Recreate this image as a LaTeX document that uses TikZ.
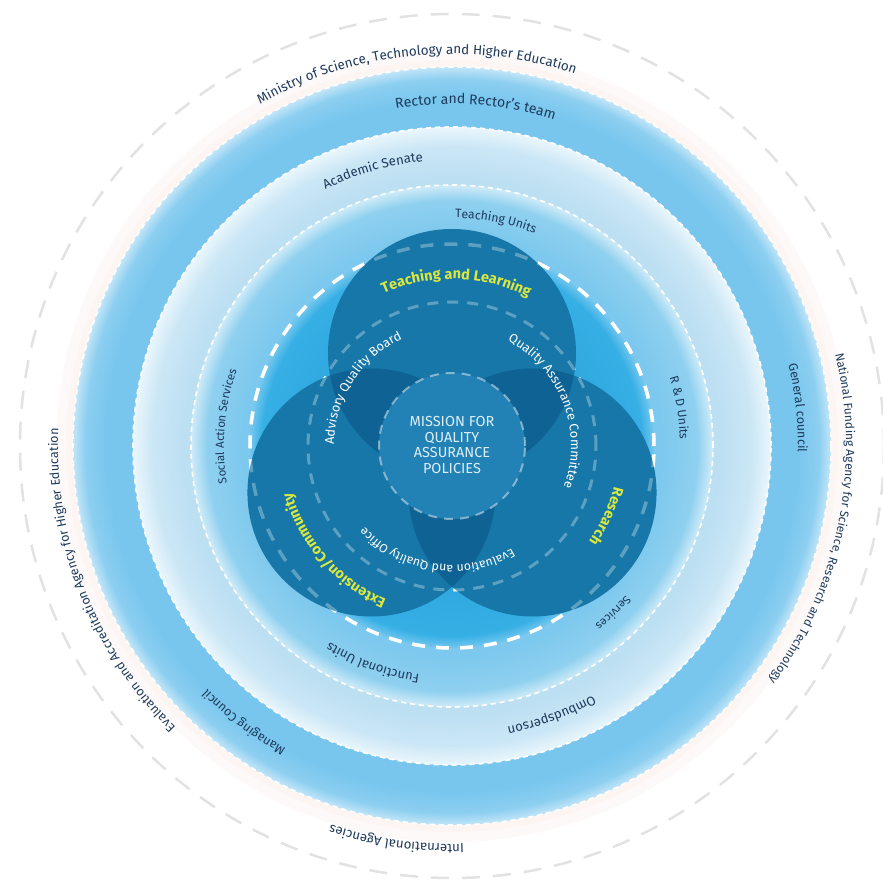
\documentclass[tikz,border=0pt]{standalone}
\usepackage{fontspec}
\setmainfont{Fira Sans}
\usetikzlibrary{decorations.text}
\definecolor{qanavy}{HTML}{1E3A5C}
\definecolor{qarector}{HTML}{78C6EE}
\definecolor{qasenate}{HTML}{CBE7F6}
\definecolor{qaunits}{HTML}{8FD0EF}
\definecolor{qabright}{HTML}{36AFE5}
\definecolor{qadeep}{HTML}{1677A8}
\definecolor{qalobe}{HTML}{0F6394}
\definecolor{qacore}{HTML}{2281B5}
\definecolor{qayellow}{HTML}{DCE83C}
\definecolor{qagrey}{HTML}{E2E2E2}
\definecolor{qapeach}{HTML}{F6E2DC}
\definecolor{qacoretext}{HTML}{DCEFF8}
% ring colours, inner part -> rim
\colorlet{rectormid}{qarector!85!white}
\colorlet{rectorrim}{qarector!45!white}
\definecolor{senatelow}{HTML}{BCDFF2}
\definecolor{senaterim}{HTML}{EAF6FC}
\definecolor{unitslow}{HTML}{7CC8EE}
\definecolor{unitsrim}{HTML}{CFEBF8}
\definecolor{brightlow}{HTML}{2EA8E0}
\definecolor{brightrim}{HTML}{74C7EE}
\pgfdeclareradialshading{rectorring}{\pgfpoint{0bp}{0bp}}{color(0bp)=(qarector); color(22.8bp)=(qarector); color(24.2bp)=(rectormid); color(25bp)=(rectorrim); color(50bp)=(rectorrim)}
\pgfdeclareradialshading{senatering}{\pgfpoint{0bp}{0bp}}{color(0bp)=(senatelow); color(21bp)=(senatelow); color(23.5bp)=(qasenate); color(25bp)=(senaterim); color(50bp)=(senaterim)}
\pgfdeclareradialshading{unitsring}{\pgfpoint{0bp}{0bp}}{color(0bp)=(unitslow); color(20bp)=(unitslow); color(23.5bp)=(qaunits); color(25bp)=(unitsrim); color(50bp)=(unitsrim)}
\pgfdeclareradialshading{brightring}{\pgfpoint{0bp}{0bp}}{color(0bp)=(brightlow); color(17bp)=(brightlow); color(23.5bp)=(qabright); color(25bp)=(brightrim); color(50bp)=(brightrim)}
% text set clockwise along a circle round the origin:
% look, size, centre angle, radius, text
\newcommand{\ringtext}[5]{%
  \path[decorate, decoration={text along path, text align=center,
    text={|#1\fontsize{#2}{#2}\selectfont|#5}}]
    ({#3+80}:#4) arc[start angle={#3+80}, end angle={#3-80}, radius=#4];}
\newcommand{\navy}{\color{qanavy}}
\newcommand{\petalfont}{\color{qayellow}\bfseries}
\newcommand{\boardfont}{\color{white}}

\begin{document}
\begin{tikzpicture}[x=1pt, y=1pt,
    outerdash/.style={qagrey, line width=2.5, dash pattern=on 18pt off 13pt},
    rimdash/.style={white, line width=1.6, dash pattern=on 5pt off 4pt},
    widedash/.style={white, line width=3.5, dash pattern=on 13pt off 11pt},
    boarddash/.style={white, line width=3, dash pattern=on 11pt off 9pt},
    coredash/.style={white, opacity=0.45, line width=2, dash pattern=on 9pt off 7pt},
    petal/.style={fill=qadeep},
    lobe/.style={fill=qalobe}
  ]
  \useasboundingbox (-452,-440) rectangle (431,446);

  % outer dashed ring and soft halo
  \draw[outerdash] (0,0) circle (432);
  \draw[qapeach, line width=20, opacity=0.2] (0,0) circle (386);
  \draw[qapeach, line width=8, opacity=0.2] (0,0) circle (382);

  % stacked discs
  \shade[shading=rectorring] (0,0) circle (379);
  \shade[shading=senatering] (0,0) circle (319);
  \shade[shading=unitsring] (0,0) circle (261);
  \shade[shading=brightring] (0,0) circle (202);
  \foreach \r in {379,319,261}
    \draw[rimdash] (0,0) circle (\r);
  \draw[widedash] (0,0) circle (202);
  \draw[boarddash] (0,0) circle (144);

  % trefoil
  \coordinate (learn) at (90:93);
  \coordinate (ext) at (210:93);
  \coordinate (res) at (330:93);
  \fill[petal] (learn) circle (124) (ext) circle (124) (res) circle (124);
  \begin{scope}
    \clip (learn) circle (124);
    \fill[lobe] (ext) circle (124);
    \fill[lobe] (res) circle (124);
  \end{scope}
  \begin{scope}
    \clip (ext) circle (124);
    \fill[lobe] (res) circle (124);
  \end{scope}
  \draw[widedash, opacity=0.3] (0,0) circle (202);
  \draw[boarddash, opacity=0.3] (0,0) circle (144);

  % core
  \fill[qacore] (0,0) circle (73);
  \draw[coredash] (0,0) circle (73);
  \node[align=center, text=qacoretext, font=\fontsize{14.5}{15.5}\selectfont] (mission) at (0,1)
    {MISSION FOR\\QUALITY\\ASSURANCE\\POLICIES};

  % outside
  \ringtext{\navy}{13.4}{95.5}{392}{Ministry of Science, Technology and Higher Education}
  \ringtext{\navy}{12}{-11.5}{394}{National Funding Agency for Science, Research and Technology}
  \ringtext{\navy}{13.2}{262}{398}{International Agencies}
  \ringtext{\navy}{12.6}{201.5}{394}{Evaluation and Accreditation Agency for Higher Education}
  % rector ring
  \ringtext{\navy}{14}{86}{342}{Rector and Rector's team}
  \ringtext{\navy}{12.5}{6.3}{346}{General council}
  \ringtext{\navy}{12.4}{233}{345}{Managing Council}
  % senate ring
  \ringtext{\navy}{13.2}{106}{286}{Academic Senate}
  \ringtext{\navy}{13.2}{-69.7}{286}{Ombudsperson}
  % units ring
  \ringtext{\navy}{12.2}{79}{228}{Teaching Units}
  \ringtext{\navy}{11.6}{175}{228}{Social Action Services}
  \ringtext{\navy}{12.2}{9.5}{228}{R {\&} D Units}
  \ringtext{\navy}{11.4}{-46}{229}{Services}
  \ringtext{\navy}{13}{250}{231}{Functional Units}
  % trefoil
  \ringtext{\petalfont}{14.5}{88.5}{167}{Teaching and Learning}
  \ringtext{\petalfont}{14.5}{-24.5}{167}{Research}
  \ringtext{\petalfont}{14.5}{221.5}{167}{Extension/Community}
  \ringtext{\boardfont}{12.8}{147}{118}{Advisory Quality Board}
  \ringtext{\boardfont}{12.8}{21}{119}{Quality Assurance Committee}
  \ringtext{\boardfont}{12.2}{261.5}{119}{Evaluation and Quality Office}
\end{tikzpicture}
\end{document}
